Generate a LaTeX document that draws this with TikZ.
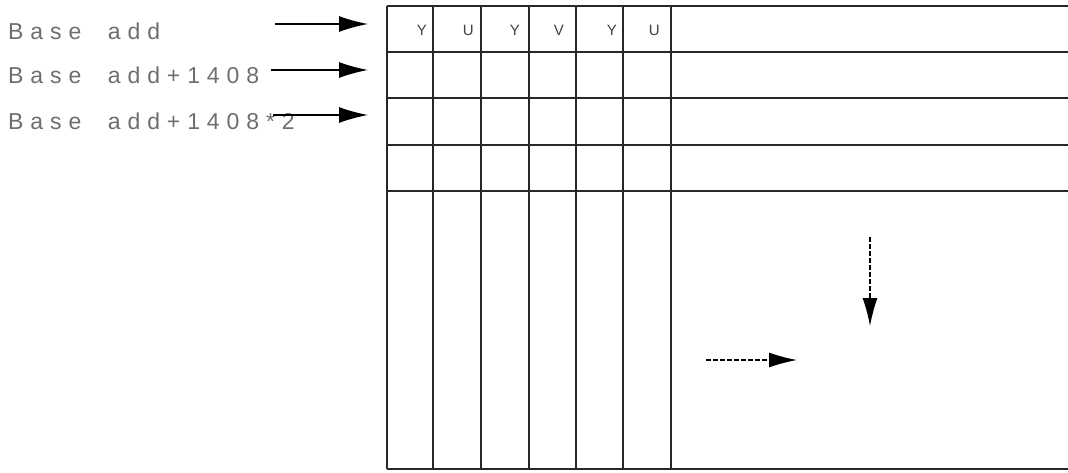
\documentclass[tikz,border=0pt]{standalone}
\usepackage{fontspec}
\setmainfont{Liberation Sans}
\newfontfamily\addrfont[LetterSpace=30]{Liberation Sans}
\usepackage{tikz}
\usetikzlibrary{arrows.meta,positioning}
\definecolor{figline}{RGB}{40,40,40}
\definecolor{figtext}{RGB}{110,110,110}
\tikzset{
  addrlabel/.style={anchor=west, inner sep=0pt, font=\fontsize{23}{23}\addrfont, text=figtext},
  pixlabel/.style={anchor=east, inner sep=0pt, font=\fontsize{15}{15}\selectfont, text=black!75},
  gridline/.style={draw=figline, line width=1.1pt},
  ptr/.style={-{Latex[length=29pt,width=16pt]}, draw=black, line width=1.3pt},
  scan/.style={-{Latex[length=28pt,width=15pt]}, draw=black, line width=1.2pt, dash pattern=on 5pt off 2pt}
}
\begin{document}
\begin{tikzpicture}[x=1pt,y=-1pt]
  \useasboundingbox (0,0) rectangle (1068,472);

  \node[addrlabel] (base0) at (8,31) {Base\ \ add};
  \node[addrlabel] (base1) at (8,75) {Base\ \ add+1408};
  \node[addrlabel] (base2) at (8,121) {Base\ \ add+1408*2};

  \coordinate (tail0) at (275,24);
  \coordinate (tail1) at (271,70);
  \coordinate (tail2) at (273,115);
  \coordinate (row0) at (368,24);
  \coordinate (row1) at (368,70);
  \coordinate (row2) at (368,115);

  \draw[ptr] (tail0) -- (row0);
  \draw[ptr] (tail1) -- (row1);
  \draw[ptr] (tail2) -- (row2);

  \foreach \y in {6,52,98,145,191,469}
    \draw[gridline] (387,\y) -- (1068,\y);
  \foreach \x in {387,433,481,529,576,623,671}
    \draw[gridline] (\x,6) -- (\x,469);

  \node[pixlabel] (c1) at (427,30) {Y};
  \node[pixlabel] (c2) at (474,30) {U};
  \node[pixlabel] (c3) at (520,30) {Y};
  \node[pixlabel] (c4) at (564,30) {V};
  \node[pixlabel] (c5) at (617,30) {Y};
  \node[pixlabel] (c6) at (660,30) {U};

  \coordinate (hstart) at (706,360);
  \coordinate (hend) at (797,360);
  \coordinate (vstart) at (870,237);
  \coordinate (vend) at (870,326);

  \draw[scan] (hstart) -- (hend);
  \draw[scan] (vstart) -- (vend);
\end{tikzpicture}
\end{document}
